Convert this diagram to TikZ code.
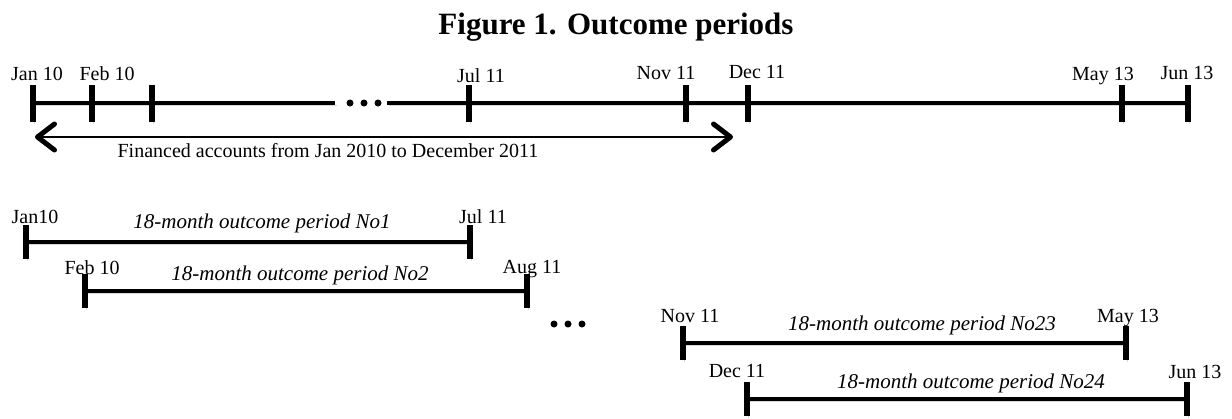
\documentclass[tikz,border=0pt]{standalone}
\usepackage{fontspec}
\setmainfont{Liberation Serif}
\usetikzlibrary{arrows.meta,positioning}

\begin{document}
\begin{tikzpicture}[x=0.5pt, y=-0.5pt, font=\fontsize{10}{12}\selectfont,
  >={Straight Barb[length=8.5pt, width=13pt, line width=2.5pt, round]}]
\tikzset{
  shade/.style={preaction={draw=black!15, transform canvas={shift={(0.8pt,-1.2pt)}}}},
  axis/.style={line width=2.4pt, shade},
  tickmark/.style={line width=2.6pt, shade},
  date/.style={anchor=base, inner sep=0pt},
  period/.style={anchor=base, inner sep=0pt, font=\fontsize{10.5}{12}\selectfont\itshape},
  dot/.style={circle, fill, inner sep=0pt, minimum size=3.5pt}
}
\useasboundingbox (0,0) rectangle (1232,418);

% title
\node[anchor=base, inner sep=0pt, font=\fontsize{15.5}{18}\selectfont\bfseries] (title) at (616,34) {Figure 1. Outcome periods};

% main time line
\foreach \n/\x in {t1/33, t2/92, t3/152, t4/469, t5/686, t6/748, t7/1122, t8/1188}
  \coordinate (\n) at (\x,103);
\coordinate (gapL) at (335,103);
\coordinate (gapR) at (387,103);
\node[dot] (d1) at (350,103) {};
\node[dot] (d2) at (364,103) {};
\node[dot] (d3) at (378,103) {};
\draw[axis] (t1) -- (gapL);
\draw[axis] (gapR) -- (t8);
\foreach \n in {t1,t2,t3,t4,t5,t6,t7,t8}
  \draw[tickmark] ([yshift=9pt]\n) -- ([yshift=-9.5pt]\n);

\node[date] (lJan) at (37,80)   {Jan 10};
\node[date] (lFeb) at (107,80)  {Feb 10};
\node[date] (lJul) at (481,82)  {Jul 11};
\node[date] (lNov) at (666,79)  {Nov 11};
\node[date] (lDec) at (757,78)  {Dec 11};
\node[date] (lMay) at (1103,80) {May 13};
\node[date] (lJun) at (1187,79) {Jun 13};

% financed accounts
\coordinate (aL) at (35,137);
\coordinate (aR) at (733,137);
\draw[<->, line width=1pt] (aL) -- (aR);
\node[date] (fin) at (328,157) {Financed accounts from Jan 2010 to December 2011};

% outcome periods
\foreach \i/\xa/\xb/\y/\xt/\yt in {1/26/470/242/262/228, 2/85/527/291/300/280,
    23/683/1126/343/922/330, 24/747/1187/399/971/388} {
  \coordinate (p\i s) at (\xa,\y);
  \coordinate (p\i e) at (\xb,\y);
  \draw[axis] (p\i s) -- (p\i e);
  \draw[tickmark] ([yshift=8.5pt]p\i s) -- ([yshift=-8.5pt]p\i s);
  \draw[tickmark] ([yshift=8.5pt]p\i e) -- ([yshift=-8.5pt]p\i e);
  \node[period] (txt\i) at (\xt,\yt) {18-month outcome period No\i};
}

\node[date] (s1) at (35,223)   {Jan10};
\node[date] (e1) at (483,223)  {Jul 11};
\node[date] (s2) at (92,274)   {Feb 10};
\node[date] (e2) at (532,273)  {Aug 11};
\node[date] (s23) at (690,322) {Nov 11};
\node[date] (e23) at (1128,322) {May 13};
\node[date] (s24) at (737,377) {Dec 11};
\node[date] (e24) at (1195,378) {Jun 13};

\node[dot] (m1) at (554,324) {};
\node[dot] (m2) at (568,324) {};
\node[dot] (m3) at (582,324) {};
\end{tikzpicture}
\end{document}
